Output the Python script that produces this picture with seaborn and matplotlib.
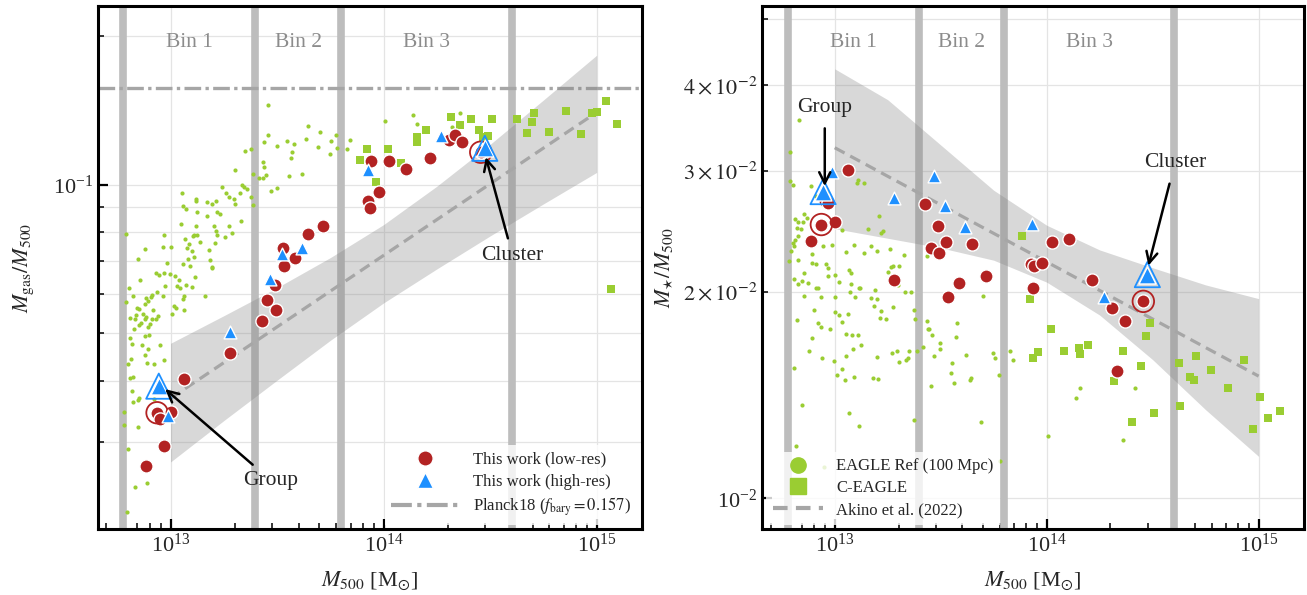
import numpy as np
import pandas as pd
import matplotlib
matplotlib.use("Agg")
import matplotlib.pyplot as plt
import matplotlib.ticker as mticker
import matplotlib.transforms as mtransforms
from matplotlib.lines import Line2D
import seaborn as sns

# ---------------- data (log10 values) ----------------
# this work, low-res haloes (same haloes in both panels)
lowres_logm = [12.886, 12.937, 12.953, 12.969, 13.000, 13.064, 13.278, 13.428, 13.452, 13.489,
               13.494, 13.526, 13.534, 13.585, 13.647, 13.715, 13.926, 13.934, 13.941, 13.977,
               14.024, 14.103, 14.216, 14.307, 14.334, 14.369, 14.456]
lowres_logfgas = [-1.571, -1.463, -1.475, -1.530, -1.461, -1.394, -1.342, -1.277, -1.234, -1.204,
                  -1.255, -1.128, -1.165, -1.148, -1.100, -1.084, -1.033, -1.047, -0.951, -1.014,
                  -0.951, -0.968, -0.946, -0.910, -0.898, -0.914, -0.934]
lowres_logfstar = [-1.625, -1.601, -1.566, -1.570, -1.598, -1.521, -1.682, -1.571, -1.635, -1.603,
                   -1.642, -1.626, -1.707, -1.686, -1.630, -1.676, -1.659, -1.693, -1.662, -1.657,
                   -1.626, -1.622, -1.682, -1.723, -1.814, -1.741, -1.713]

# this work, high-res haloes
hires_logm = [12.989, 12.945, 13.278, 13.468, 13.521, 13.616, 13.929, 14.271, 14.475]
hires_logfgas = [-1.470, -1.409, -1.299, -1.191, -1.140, -1.129, -0.971, -0.902, -0.926]
hires_logfstar = [-1.525, -1.553, -1.563, -1.530, -1.574, -1.604, -1.600, -1.707, -1.674]

# highlighted objects (index into the arrays above)
group_idx_low, cluster_idx_low = 1, 26
group_idx_hi, cluster_idx_hi = 1, 8

# C-EAGLE
ceagle_gas_logm = [13.890, 13.922, 14.021, 13.963, 14.081, 14.159, 14.159, 14.200, 14.318, 14.359,
                   14.408, 14.448, 14.467, 14.491, 14.511, 14.627, 14.705, 14.698, 14.675, 14.774,
                   14.854, 14.928, 14.978, 15.003, 15.042, 15.097, 15.065]
ceagle_gas_logf = [-0.949, -0.928, -0.927, -0.995, -0.955, -0.903, -0.914, -0.888, -0.862, -0.878,
                   -0.866, -0.888, -0.903, -0.902, -0.866, -0.867, -0.854, -0.872, -0.895, -0.892,
                   -0.850, -0.896, -0.854, -0.852, -0.830, -0.876, -1.212]
ceagle_star_logm = [13.883, 13.922, 13.934, 13.959, 14.021, 14.082, 14.153, 14.158, 14.195, 14.318,
                    14.360, 14.402, 14.445, 14.468, 14.487, 14.506, 14.625, 14.630, 14.675, 14.694,
                    14.704, 14.774, 14.854, 14.929, 14.972, 15.005, 15.042, 15.099]
ceagle_star_logf = [-1.617, -1.709, -1.795, -1.787, -1.754, -1.786, -1.781, -1.790, -1.777, -1.829,
                    -1.786, -1.889, -1.807, -1.764, -1.745, -1.876, -1.803, -1.866, -1.823, -1.827,
                    -1.792, -1.813, -1.840, -1.799, -1.899, -1.853, -1.883, -1.873]

# EAGLE Ref (100 Mpc)
eagle_gas_logm = [
    13.458, 13.645, 13.701, 13.458, 13.777, 13.842, 13.350, 13.377, 13.441, 13.502,
    13.549, 13.580, 13.637, 13.692, 13.753, 13.781, 13.830, 13.569, 13.565, 13.750,
    13.435, 13.439, 13.301, 13.386, 13.416, 13.436, 13.449, 13.554, 13.618, 13.500,
    13.471, 13.240, 13.334, 13.347, 13.361, 13.262, 13.276, 13.298, 13.326, 13.377,
    13.052, 13.118, 13.118, 13.173, 13.196, 13.215, 13.304, 13.388, 13.057, 13.075,
    13.124, 13.217, 13.231, 13.173, 13.330, 13.050, 13.119, 13.204, 13.212, 13.275,
    13.290, 13.220, 13.256, 13.108, 13.124, 13.104, 12.969, 12.793, 13.066, 13.086,
    13.138, 13.209, 12.882, 12.966, 13.002, 13.077, 13.099, 13.182, 12.848, 12.984,
    13.060, 13.082, 13.091, 13.110, 13.185, 13.195,
    12.934, 12.969, 12.997, 13.019, 12.945, 12.859, 13.039, 13.115, 13.193, 13.031,
    13.044, 13.075, 13.099, 12.973, 12.804, 12.824, 12.793, 12.887, 12.909, 12.914,
    12.937, 12.895, 12.879, 12.843, 12.854, 12.840, 12.871, 12.887, 12.919, 12.966,
    13.063, 13.060, 13.162, 13.016, 13.027, 13.063, 13.008, 12.940, 12.934, 12.911,
    12.882, 12.812, 12.832, 12.862, 12.853, 12.831, 12.893, 12.903, 12.878, 12.898,
    12.809, 12.821, 12.867, 12.893, 12.953, 12.878, 12.815, 12.801, 12.890, 12.922,
    12.970, 12.824, 12.809, 12.817, 12.851, 12.846, 12.824, 12.922, 12.784, 12.784,
    12.846, 12.801, 12.890, 12.835, 12.796, 14.005, 14.139, 14.157, 14.361, 14.322]
eagle_gas_logf = [
    -0.839, -0.880, -0.892, -0.898, -0.900, -0.910, -0.932, -0.927, -0.914, -0.921,
    -0.911, -0.918, -0.907, -0.924, -0.912, -0.925, -0.927, -0.934, -0.945, -0.937,
    -0.953, -0.964, -0.970, -0.978, -0.987, -0.986, -0.981, -0.983, -0.978, -1.007,
    -1.012, -1.004, -1.001, -1.005, -1.008, -1.017, -1.024, -1.029, -1.016, -1.024,
    -1.016, -1.029, -1.033, -1.035, -1.040, -1.034, -1.039, -1.041, -1.043, -1.049,
    -1.055, -1.056, -1.060, -1.064, -1.074, -1.079, -1.084, -1.083, -1.093, -1.084,
    -1.097, -1.102, -1.106, -1.102, -1.102, -1.104, -1.102, -1.101, -1.110, -1.120,
    -1.117, -1.119, -1.130, -1.126, -1.127, -1.129, -1.135, -1.133, -1.150, -1.159,
    -1.160, -1.150, -1.164, -1.147, -1.152, -1.168,
    -1.179, -1.179, -1.182, -1.185, -1.184, -1.194, -1.194, -1.187, -1.169, -1.206,
    -1.209, -1.203, -1.208, -1.206, -1.210, -1.226, -1.239, -1.231, -1.228, -1.223,
    -1.218, -1.237, -1.243, -1.250, -1.253, -1.264, -1.262, -1.268, -1.255, -1.226,
    -1.226, -1.233, -1.225, -1.247, -1.250, -1.254, -1.262, -1.267, -1.272, -1.272,
    -1.272, -1.270, -1.273, -1.280, -1.285, -1.292, -1.289, -1.283, -1.307, -1.306,
    -1.312, -1.323, -1.326, -1.333, -1.325, -1.345, -1.354, -1.365, -1.361, -1.363,
    -1.356, -1.390, -1.392, -1.419, -1.434, -1.438, -1.442, -1.436, -1.461, -1.488,
    -1.491, -1.536, -1.605, -1.614, -1.664, -0.871, -0.858, -0.876, -0.854, -0.883]

eagle_star_logm = [
    12.833, 12.790, 12.790, 12.801, 12.887, 12.914, 12.958, 13.112, 13.138, 13.104,
    13.209, 12.812, 12.829, 12.848, 12.856, 12.869, 12.820, 12.840, 12.814, 12.825,
    12.801, 12.809, 12.793, 12.785, 12.829, 12.895, 12.892, 12.911, 12.945, 12.985,
    13.036, 13.159, 13.229, 13.217, 13.054, 13.091, 13.138, 13.170, 13.201, 13.262,
    13.327, 13.275, 13.436, 12.958,
    12.809, 12.828, 12.845, 12.856, 12.872, 12.911, 12.919, 12.967, 12.969, 13.000,
    13.021, 13.065, 13.076, 13.076, 13.115, 13.120, 13.073, 13.096, 13.190, 13.171,
    13.198, 13.275, 13.300, 13.330, 13.358, 12.856, 12.822, 12.900, 12.935, 12.919,
    12.935, 12.977, 13.000, 13.018, 13.032, 13.062, 13.002, 13.052, 13.080, 13.109,
    13.084, 13.123, 13.051, 12.939, 12.880, 12.892, 12.997, 13.036, 13.013, 13.049,
    13.091, 13.181, 13.206, 13.198, 13.272, 13.295, 13.303, 13.335, 13.345, 13.350,
    13.212, 13.240, 13.220, 13.185, 13.374, 13.377, 13.433, 13.440, 13.447, 13.457,
    13.499, 13.499, 13.469, 13.388, 13.415, 13.375, 13.455, 13.548, 13.553, 13.564,
    13.570, 13.579, 13.617, 13.636, 13.645, 13.698, 13.747, 13.755, 13.775, 13.829,
    13.841, 13.689, 13.065, 13.115, 12.845, 12.806, 12.817, 12.950, 13.778, 13.267,
    13.253, 13.303, 14.157, 14.137, 14.419, 14.004, 14.360]
eagle_star_logf = [
    -1.448, -1.495, -1.538, -1.543, -1.545, -1.560, -1.554, -1.536, -1.540, -1.540,
    -1.589, -1.593, -1.598, -1.597, -1.586, -1.592, -1.606, -1.607, -1.623, -1.618,
    -1.628, -1.632, -1.640, -1.654, -1.652, -1.644, -1.657, -1.658, -1.633, -1.631,
    -1.609, -1.607, -1.610, -1.613, -1.641, -1.631, -1.643, -1.633, -1.640, -1.637,
    -1.646, -1.661, -1.647, -1.658,
    -1.680, -1.688, -1.684, -1.671, -1.686, -1.694, -1.693, -1.665, -1.676, -1.675,
    -1.685, -1.667, -1.671, -1.688, -1.693, -1.694, -1.699, -1.706, -1.696, -1.708,
    -1.710, -1.721, -1.689, -1.700, -1.700, -1.705, -1.740, -1.726, -1.706, -1.744,
    -1.750, -1.754, -1.728, -1.733, -1.743, -1.732, -1.706, -1.761, -1.762, -1.762,
    -1.782, -1.776, -1.792, -1.795, -1.785, -1.767, -1.800, -1.811, -1.821, -1.828,
    -1.823, -1.825, -1.826, -1.794, -1.788, -1.785, -1.802, -1.799, -1.795, -1.786,
    -1.737, -1.738, -1.727, -1.720, -1.726, -1.739, -1.741, -1.753, -1.754, -1.762,
    -1.773, -1.783, -1.793, -1.786, -1.779, -1.886, -1.837, -1.817, -1.803, -1.832,
    -1.765, -1.745, -1.791, -1.828, -1.825, -1.705, -1.789, -1.796, -1.820, -1.786,
    -1.799, -1.889, -1.876, -1.894, -1.864, -1.810, -1.924, -1.955, -1.946, -1.663,
    -1.670, -1.662, -1.839, -1.854, -1.840, -1.909, -1.915]

# Akino et al. (2022) scaling relations and their scatter bands
akino_logm = [13.0, 13.25, 13.5, 13.75, 14.0, 14.25, 14.5, 14.75, 15.0]
akino_gas_lo = [-1.563, -1.479, -1.397, -1.316, -1.240, -1.171, -1.104, -1.039, -0.975]
akino_gas_hi = [-1.322, -1.266, -1.209, -1.148, -1.081, -1.003, -0.918, -0.828, -0.737]
akino_star_lo = [-1.607, -1.621, -1.635, -1.653, -1.685, -1.733, -1.798, -1.871, -1.939]
akino_star_hi = [-1.374, -1.419, -1.485, -1.551, -1.602, -1.638, -1.664, -1.689, -1.709]
akino_line_logm = [13.0, 15.0]
akino_gas_line = [-1.434, -0.853]
akino_star_line = [-1.489, -1.822]

f_bary = 0.157
bin_edges = [6.0e12, 2.5e13, 6.3e13, 4.0e14]
bin_names = ['Bin 1', 'Bin 2', 'Bin 3']

# ---------------- style ----------------
sns.set_style("whitegrid")
plt.rcParams['font.family'] = ['Liberation Serif', 'DejaVu Serif']
plt.rcParams['mathtext.fontset'] = 'stix'

RED = '#b22222'
BLUE = '#1e90ff'
GREEN = '#9acd32'
GREY = '#a6a6a6'

fig = plt.figure(figsize=(13.07, 5.95), dpi=100)
ax1 = fig.add_axes([0.0747, 0.111, 0.4164, 0.879])
ax2 = fig.add_axes([0.5832, 0.111, 0.4142, 0.879])


def setup(ax, ylim):
    ax.set_xscale('log')
    ax.set_yscale('log')
    ax.set_xlim(4.55e12, 1.63e15)
    ax.set_ylim(*ylim)
    ax.grid(False)
    ax.grid(True, which='major', axis='x', color='#e4e4e4', lw=0.9)
    ax.grid(True, which='both', axis='y', color='#e4e4e4', lw=0.9)
    ax.set_axisbelow(True)
    for sp in ax.spines.values():
        sp.set_linewidth(2.2)
        sp.set_color('k')
    ax.tick_params(which='both', direction='in', bottom=True, left=True,
                   top=False, right=False, labelsize=16, color='k')
    ax.tick_params(which='major', length=7, width=1.6)
    ax.tick_params(which='minor', length=4.5, width=1.1)
    ax.xaxis.set_minor_formatter(mticker.NullFormatter())
    # mass bins
    for e in bin_edges:
        ax.axvline(e, color='#bdbdbd', lw=5.5, zorder=1)
    trans = mtransforms.blended_transform_factory(ax.transData, ax.transAxes)
    for i, name in enumerate(bin_names):
        xc = np.sqrt(bin_edges[i] * bin_edges[i + 1])
        ax.text(xc, 0.93, name, transform=trans, ha='center', va='center',
                color='#8c8c8c', fontsize=15.5, zorder=3)
    ax.set_xlabel(r'$M_{500}$ [M$_{\odot}$]', fontsize=16, labelpad=9)


def points(ax, logm, logf, hi_logm, hi_logf, e_logm, e_logf, c_logm, c_logf):
    sns.scatterplot(x=10 ** np.array(e_logm), y=10 ** np.array(e_logf), ax=ax, color=GREEN,
                    s=9, linewidth=0, marker='o', legend=False, zorder=3)
    sns.scatterplot(x=10 ** np.array(c_logm), y=10 ** np.array(c_logf), ax=ax, color=GREEN,
                    s=30, linewidth=0, marker='s', legend=False, zorder=3)
    m = 10 ** np.array(logm)
    f = 10 ** np.array(logf)
    sns.scatterplot(x=m, y=f, ax=ax, color=RED, s=90, edgecolor='white', linewidth=1.0,
                    marker='o', legend=False, zorder=4)
    hm = 10 ** np.array(hi_logm)
    hf = 10 ** np.array(hi_logf)
    sns.scatterplot(x=hm, y=hf, ax=ax, color=BLUE, s=85, edgecolor='white', linewidth=1.0,
                    marker='^', legend=False, zorder=5)
    # highlighted group / cluster
    idx = [group_idx_low, cluster_idx_low]
    ax.scatter(m[idx], f[idx], s=240, facecolors='none', edgecolors=RED, linewidths=1.3, zorder=4)
    jdx = [group_idx_hi, cluster_idx_hi]
    ax.scatter(hm[jdx], hf[jdx], s=150, color=BLUE, edgecolors='white', linewidths=1.0,
               marker='^', zorder=5)
    ax.scatter(hm[jdx], hf[jdx], s=330, facecolors='none', edgecolors=BLUE, linewidths=1.3,
               marker='^', zorder=5)


def band(ax, lo, hi, line):
    ax.fill_between(10 ** np.array(akino_logm), 10 ** np.array(lo), 10 ** np.array(hi),
                    color='grey', alpha=0.3, lw=0, zorder=2)
    sns.lineplot(x=10 ** np.array(akino_line_logm), y=10 ** np.array(line), ax=ax,
                 color=GREY, lw=2.3, dashes=False, linestyle=(0, (3.5, 2.0)), zorder=2.5)


arrow = dict(arrowstyle='->', color='k', lw=1.8, mutation_scale=20, shrinkA=3, shrinkB=0)

# ---------------- left: gas fraction ----------------
setup(ax1, (0.02, 0.2307))
ax1.axhline(f_bary, color=GREY, lw=2.4, dashes=(5, 1.3, 1, 1.3), zorder=2)
band(ax1, akino_gas_lo, akino_gas_hi, akino_gas_line)
points(ax1, lowres_logm, lowres_logfgas, hires_logm, hires_logfgas,
       eagle_gas_logm, eagle_gas_logf, ceagle_gas_logm, ceagle_gas_logf)
ax1.yaxis.set_minor_formatter(mticker.NullFormatter())
ax1.set_ylabel(r'$M_{\rm gas}/M_{500}$', fontsize=16, labelpad=12)
ax1.annotate('Group', xy=(10 ** 12.975, 10 ** -1.415), xytext=(10 ** 13.47, 10 ** -1.60),
             fontsize=15.5, ha='center', va='center', arrowprops=arrow, zorder=7)
ax1.annotate('Cluster', xy=(10 ** 14.48, 10 ** -0.944), xytext=(10 ** 14.605, 10 ** -1.143),
             fontsize=15.5, ha='center', va='center', arrowprops=arrow, zorder=7)
h1 = [Line2D([], [], marker='o', ls='none', color=RED, mec='white', ms=11, label='This work (low-res)'),
      Line2D([], [], marker='^', ls='none', color=BLUE, mec='white', ms=11, label='This work (high-res)'),
      Line2D([], [], color=GREY, lw=3, dashes=(5, 1.3, 1, 1.3), label=r'Planck18 ($f_{\rm bary}=0.157$)')]
leg1 = ax1.legend(handles=h1, loc='lower right', fontsize=12, handlelength=4, handletextpad=0.9,
                  labelspacing=0.35, borderaxespad=0.25, frameon=True, framealpha=0.8,
                  facecolor='white', edgecolor='none', fancybox=False)
leg1.set_zorder(10)

# ---------------- right: stellar fraction ----------------
setup(ax2, (0.00902, 0.0522))
band(ax2, akino_star_lo, akino_star_hi, akino_star_line)
points(ax2, lowres_logm, lowres_logfstar, hires_logm, hires_logfstar,
       eagle_star_logm, eagle_star_logf, ceagle_star_logm, ceagle_star_logf)


def star_minor(v, pos):
    c = int(round(v / 1e-2))
    if c in (2, 3, 4) and abs(v / 1e-2 - c) < 1e-6:
        return r'$%d\times10^{-2}$' % c
    return ''


ax2.yaxis.set_minor_formatter(mticker.FuncFormatter(star_minor))
ax2.set_ylabel(r'$M_{\star}/M_{500}$', fontsize=16, labelpad=6)
ax2.annotate('Group', xy=(10 ** 12.953, 10 ** -1.545), xytext=(10 ** 12.953, 10 ** -1.43),
             fontsize=15.5, ha='center', va='center', arrowprops=dict(arrow, shrinkA=6), zorder=7)
ax2.annotate('Cluster', xy=(10 ** 14.48, 10 ** -1.661), xytext=(10 ** 14.605, 10 ** -1.511),
             fontsize=15.5, ha='center', va='center', arrowprops=dict(arrow, shrinkA=6), zorder=7)
h2 = [Line2D([], [], marker='o', ls='none', color=GREEN, ms=11, label='EAGLE Ref (100 Mpc)'),
      Line2D([], [], marker='s', ls='none', color=GREEN, ms=11, label='C-EAGLE'),
      Line2D([], [], color=GREY, lw=3, dashes=(3.5, 2.0), label='Akino et al. (2022)')]
leg2 = ax2.legend(handles=h2, loc='lower left', fontsize=12, handlelength=3, handletextpad=0.8,
                  labelspacing=0.35, borderaxespad=0.25, frameon=True, framealpha=0.8,
                  facecolor='white', edgecolor='none', fancybox=False)
leg2.set_zorder(10)

fig.savefig('out.png', dpi=100)
